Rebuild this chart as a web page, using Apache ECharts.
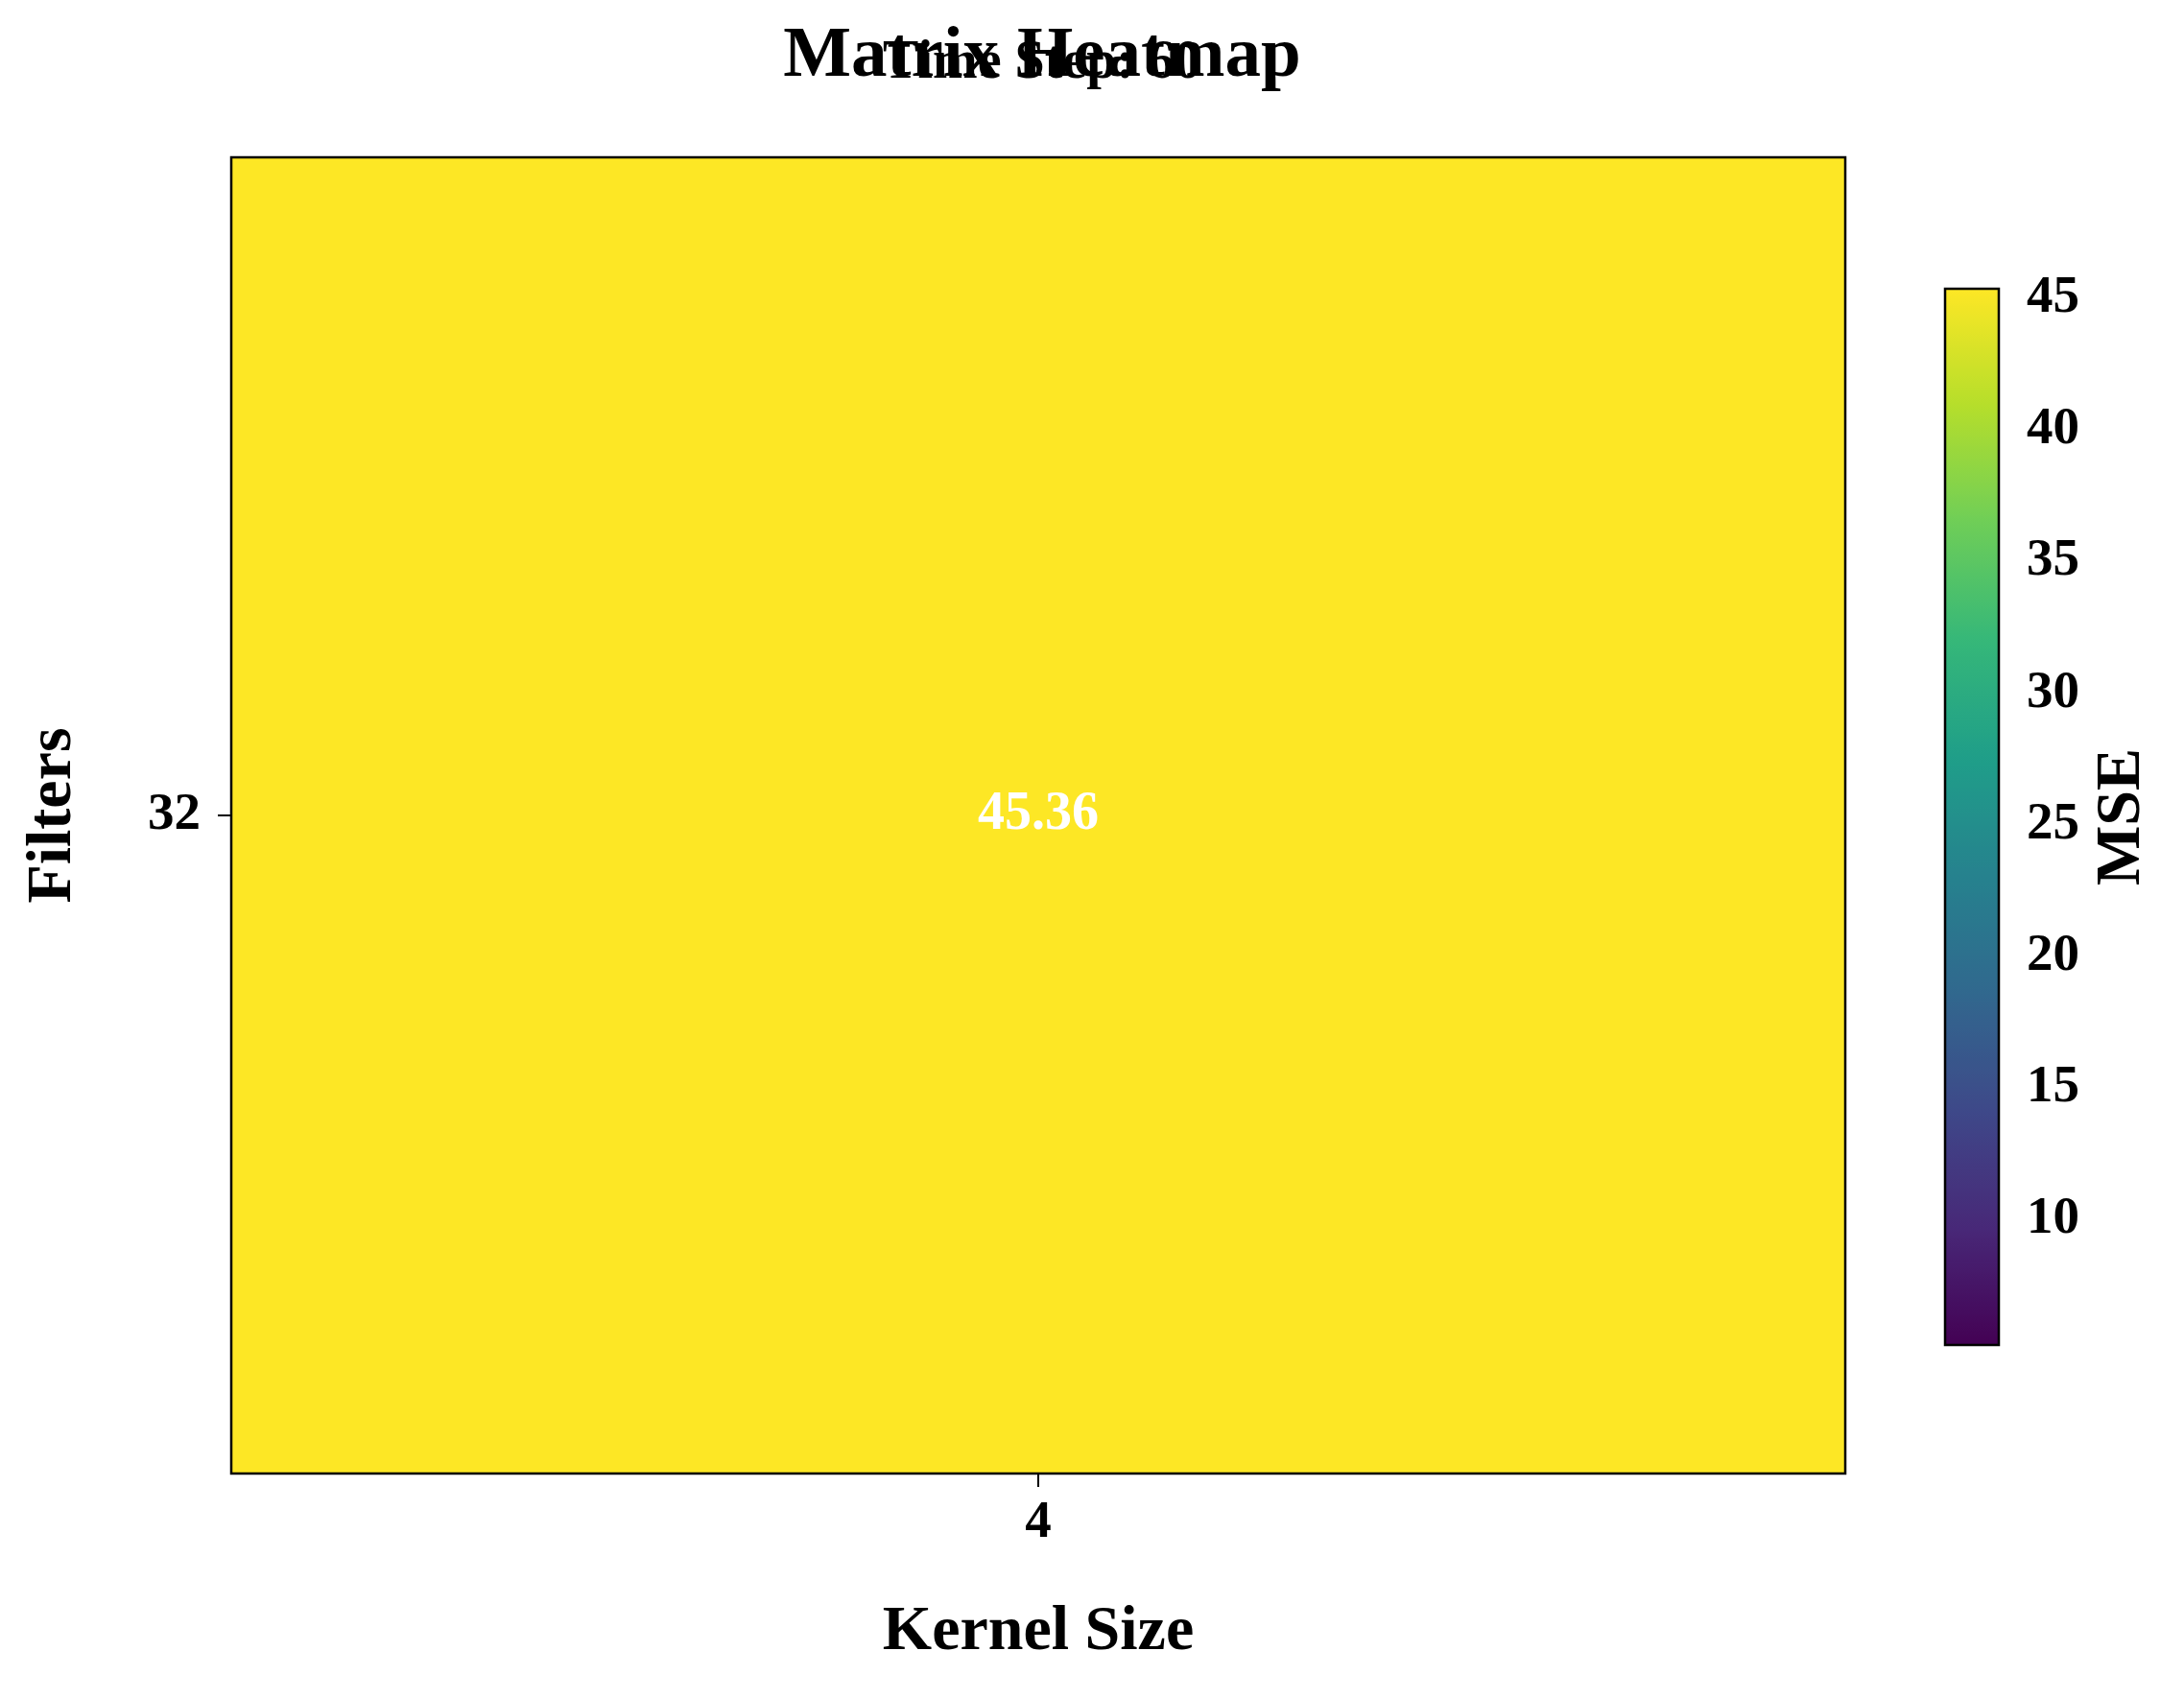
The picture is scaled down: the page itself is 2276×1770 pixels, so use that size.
<!DOCTYPE html>
<html>
<head>
<meta charset="utf-8">
<script src="https://cdn.jsdelivr.net/npm/echarts@6/dist/echarts.min.js"></script>
<style>
  html, body { margin: 0; padding: 0; background: #ffffff; }
  #chart { width: 2276px; height: 1770px; }
</style>
</head>
<body>
<div id="chart"></div>
<script>
// ---- data ----
const kernelSizes = ['4'];
const filterCounts = ['32'];
const mseValues = [45.36];           // one cell: kernel 4, filters 32
const colorbarTicks = [10, 15, 20, 25, 30, 35, 40, 45];
const colorMin = 5.22;
const colorMax = 45.36;
const viridis = ['#440154', '#482878', '#3e4989', '#31688e', '#26828e',
                 '#1f9e89', '#35b779', '#6ece58', '#b5de2b', '#fde725'];

const FONT = '"Liberation Serif", "Times New Roman", serif';

const cells = [];
kernelSizes.forEach((k, i) => {
  filterCounts.forEach((f, j) => {
    cells.push([i, j, mseValues[i * filterCounts.length + j]]);
  });
});

const chart = echarts.init(document.getElementById('chart'), null, { renderer: 'canvas' });

const option = {
  backgroundColor: '#ffffff',
  animation: false,
  title: [
    {
      text: 'Matrix Heatmap',
      left: 1081, top: 17, textAlign: 'center',
      textStyle: { fontFamily: FONT, fontWeight: 'bold', fontSize: 75, lineHeight: 75, color: '#000' }
    },
    {
      text: 'Time Step: 60',
      left: 1081, top: 34, textAlign: 'center',
      textStyle: { fontFamily: FONT, fontWeight: 'bold', fontSize: 56, lineHeight: 56, color: '#000' }
    }
  ],
  grid: [
    { left: 241, top: 164, width: 1682, height: 1372, show: true, z: 10,
      backgroundColor: 'transparent', borderColor: '#000', borderWidth: 2.5 },
    { left: 2027, top: 301, width: 56, height: 1101, show: true, z: 10,
      backgroundColor: 'transparent', borderColor: '#000', borderWidth: 2.5 }
  ],
  xAxis: [
    {
      gridIndex: 0, type: 'category', data: kernelSizes,
      name: 'Kernel Size', nameLocation: 'middle', nameGap: 133,
      nameTextStyle: { fontFamily: FONT, fontWeight: 'bold', fontSize: 66, color: '#000' },
      axisLine: { show: false },
      axisTick: { show: true, alignWithLabel: true, length: 14, lineStyle: { color: '#000', width: 2 } },
      axisLabel: { fontFamily: FONT, fontWeight: 'bold', fontSize: 55, color: '#000', margin: 24 },
      splitLine: { show: false }
    },
    {
      gridIndex: 1, type: 'value', min: 0, max: 1, show: false
    }
  ],
  yAxis: [
    {
      gridIndex: 0, type: 'category', data: filterCounts,
      name: 'Filters', nameLocation: 'middle', nameGap: 152, nameRotate: 90,
      nameTextStyle: { fontFamily: FONT, fontWeight: 'bold', fontSize: 66, color: '#000' },
      axisLine: { show: false },
      axisTick: { show: true, alignWithLabel: true, length: 14, lineStyle: { color: '#000', width: 2 } },
      axisLabel: { fontFamily: FONT, fontWeight: 'bold', fontSize: 55, color: '#000', margin: 32 },
      splitLine: { show: false }
    },
    {
      gridIndex: 1, type: 'value', position: 'right', min: colorMin, max: colorMax,
      name: 'MSE', nameLocation: 'middle', nameGap: 96, nameRotate: 90,
      nameTextStyle: { fontFamily: FONT, fontWeight: 'bold', fontSize: 66, color: '#000' },
      axisLine: { show: false },
      axisTick: { show: true, length: 15, customValues: colorbarTicks, lineStyle: { color: '#000', width: 2 } },
      axisLabel: { fontFamily: FONT, fontWeight: 'bold', fontSize: 55, color: '#000', margin: 29,
                   customValues: colorbarTicks },
      splitLine: { show: false }
    }
  ],
  visualMap: {
    type: 'continuous',
    seriesIndex: 0,
    min: colorMin, max: colorMax,
    orient: 'vertical',
    left: 2027, top: 301,
    itemWidth: 56, itemHeight: 1101,
    padding: 0,
    calculable: false,
    hoverLink: false,
    showLabel: false,
    text: null,
    inRange: { color: viridis }
  },
  series: [
    {
      type: 'heatmap',
      xAxisIndex: 0, yAxisIndex: 0,
      data: cells,
      label: {
        show: true,
        formatter: p => p.value[2].toFixed(2),
        color: '#ffffff',
        fontFamily: FONT, fontWeight: 'bold', fontSize: 56
      },
      itemStyle: { borderWidth: 0 }
    },
    {
      type: 'scatter',
      xAxisIndex: 1, yAxisIndex: 1,
      data: [],
      silent: true
    }
  ]
};

chart.setOption(option);
</script>
</body>
</html>
